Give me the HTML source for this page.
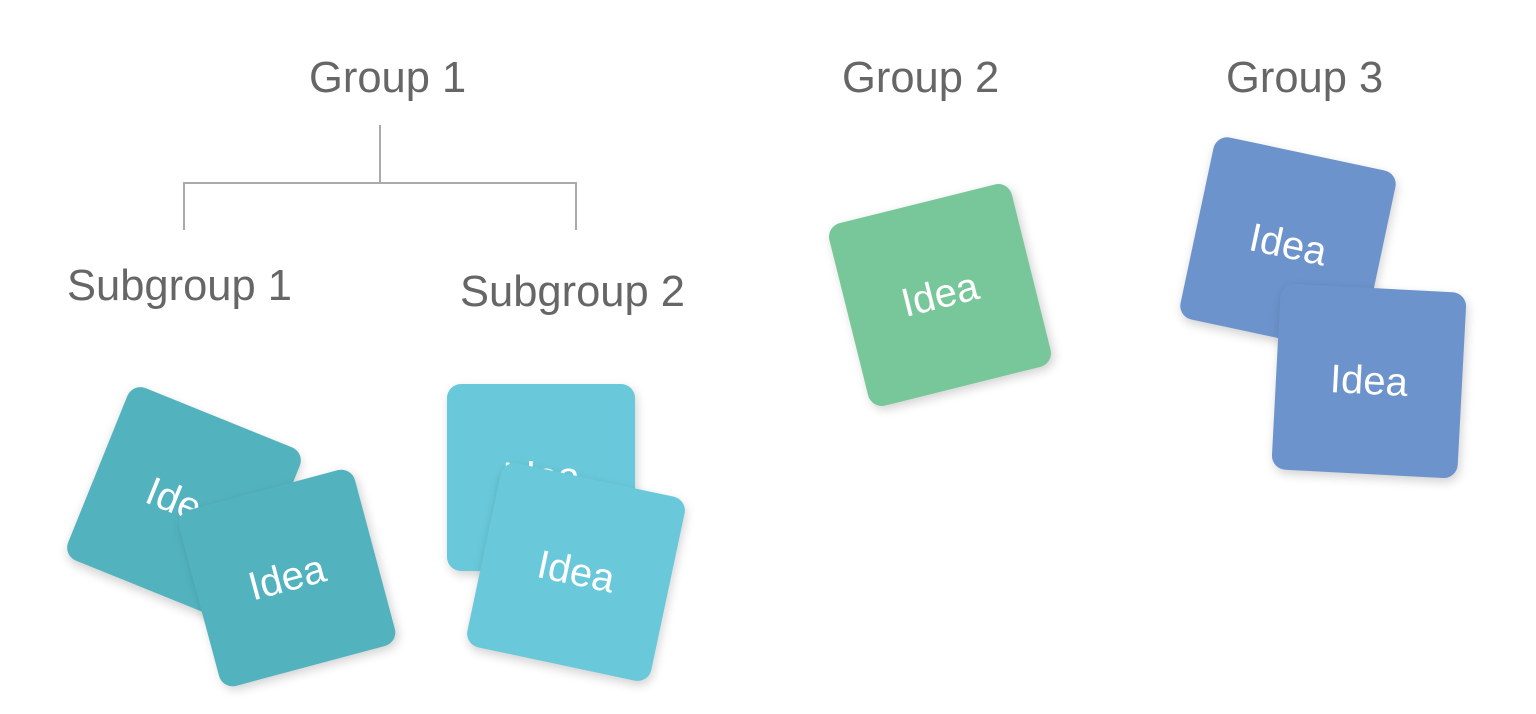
<!DOCTYPE html>
<html><head><meta charset="utf-8"><style>
body{margin:0;width:1536px;height:714px;background:#fff;position:relative;overflow:hidden;font-family:"Liberation Sans",sans-serif;}
.t{position:absolute;color:#666;font-size:43.5px;white-space:nowrap;line-height:1;}
.c{position:absolute;border-radius:14px;display:flex;align-items:center;justify-content:center;color:#fff;font-size:40px;box-shadow:2px 4px 10px rgba(0,0,0,0.18);}
.l{position:absolute;background:#aaa;}
</style></head><body>
<div class="t" style="left:309px;top:57px">Group 1</div>
<div class="t" style="left:842px;top:57px">Group 2</div>
<div class="t" style="left:1226px;top:57px">Group 3</div>
<div class="t" style="left:67px;top:265px">Subgroup 1</div>
<div class="t" style="left:460px;top:271px">Subgroup 2</div>
<div class="l" style="left:379px;top:125px;width:2px;height:59px"></div>
<div class="l" style="left:183px;top:182px;width:394px;height:2px"></div>
<div class="l" style="left:183px;top:182px;width:2px;height:48px"></div>
<div class="l" style="left:575px;top:182px;width:2px;height:48px"></div>

<div class="c" style="background:#52b3bf;width:186px;height:186px;left:91px;top:411px;transform:rotate(22deg)">Idea</div>
<div class="c" style="background:#52b3bf;width:182px;height:182px;left:196px;top:487px;transform:rotate(-15deg)">Idea</div>
<div class="c" style="background:#69c9da;width:188px;height:187px;left:447px;top:384px;transform:none">Idea</div>
<div class="c" style="background:#69c9da;width:188px;height:188px;left:482px;top:478px;transform:rotate(12deg)">Idea</div>
<div class="c" style="background:#78c79a;width:188px;height:188px;left:846px;top:201px;transform:rotate(-14deg)">Idea</div>
<div class="c" style="background:#6c93cc;width:186px;height:186px;left:1195px;top:152px;transform:rotate(12deg)">Idea</div>
<div class="c" style="background:#6c93cc;width:186px;height:186px;left:1276px;top:288px;transform:rotate(3deg)">Idea</div>
</body></html>
